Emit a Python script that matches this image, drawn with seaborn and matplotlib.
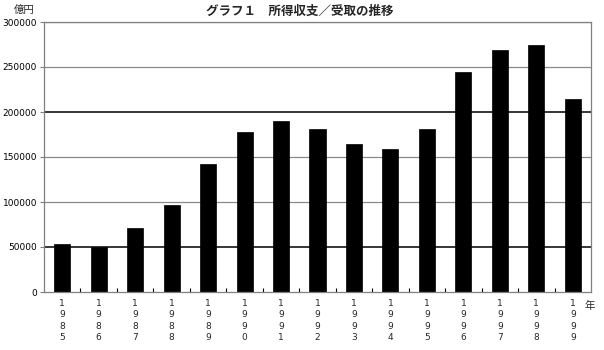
import matplotlib
matplotlib.use("Agg")
import matplotlib.pyplot as plt
import seaborn as sns
import pandas as pd
from matplotlib.ticker import FixedLocator

years = ["1985", "1986", "1987", "1988", "1989", "1990", "1991", "1992",
         "1993", "1994", "1995", "1996", "1997", "1998", "1999"]
values = [53000, 49500, 71000, 97000, 142000, 178000, 190000, 181000,
          165000, 159000, 181000, 245000, 269000, 274000, 215000]
yticks = [0, 50000, 100000, 150000, 200000, 250000, 300000]

title = "グラフ１　所得収支／受取の推移"
unit_label = "億円"
x_unit = "年"

sns.set_theme(style="white")
plt.rcParams["font.family"] = ["Noto Sans CJK JP", "DejaVu Sans"]

df = pd.DataFrame({"year": years, "value": values})

fig = plt.figure(figsize=(6.04, 3.5), dpi=100)
ax = fig.add_axes([44 / 604, 1 - 292 / 350, (591 - 44) / 604, (292 - 22) / 350])

sns.barplot(data=df, x="year", y="value", color="black", width=0.44,
            saturation=1, ax=ax)
for p in ax.patches:
    p.set_zorder(3)
    p.set_edgecolor("black")
    p.set_linewidth(0.5)

# gridlines
for t in yticks[1:]:
    if t in (50000, 200000):
        ax.axhline(t, color="black", lw=1.1, zorder=1)
    else:
        ax.axhline(t, color="#8a8a8a", lw=0.9, zorder=1)

ax.set_ylim(0, 300000)
ax.set_xlim(-0.5, len(years) - 0.5)
ax.set_yticks(yticks)
ax.set_yticklabels([str(t) for t in yticks], fontsize=6.5, color="black",
                   family="DejaVu Sans")
ax.set_xticks(range(len(years)))
ax.set_xticklabels(["\n".join(y) for y in years], fontsize=6.5,
                   linespacing=1.35, family="DejaVu Sans", va="top")
ax.xaxis.set_minor_locator(FixedLocator([i + 0.5 for i in range(len(years) - 1)]))
ax.tick_params(axis="x", which="major", length=0, pad=5)
ax.tick_params(axis="x", which="minor", direction="in", length=3, width=0.8,
               color="black", bottom=True)
ax.tick_params(axis="y", which="major", length=3, width=0.8, color="#808080",
               pad=2, left=True)
ax.set_xlabel("")
ax.set_ylabel("")

for s in ax.spines.values():
    s.set_color("#808080")
    s.set_linewidth(0.9)
    s.set_visible(True)
    s.set_zorder(4)

fig.text(300 / 604, 1 - 11 / 350, title, ha="center", va="center",
         fontsize=9, fontweight="bold")
fig.text(24 / 604, 1 - 10 / 350, unit_label, ha="center", va="center",
         fontsize=7.5)
fig.text(590 / 604, 1 - 306 / 350, x_unit, ha="center", va="center",
         fontsize=7.5)

fig.savefig("out.png", dpi=100)
